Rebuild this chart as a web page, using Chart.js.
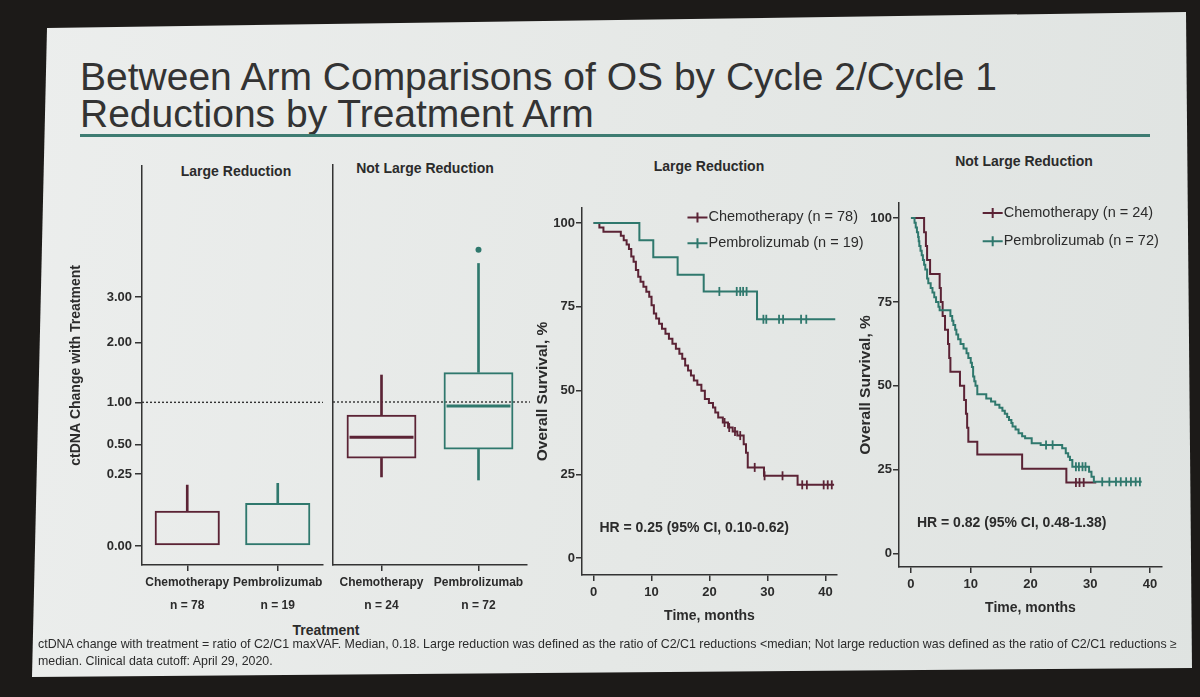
<!DOCTYPE html>
<html>
<head>
<meta charset="utf-8">
<script src="https://cdn.jsdelivr.net/npm/chart.js@4.4.1/dist/chart.umd.min.js"></script>
<style>
  html, body { margin: 0; padding: 0; }
  body { width: 1200px; height: 697px; background: #1c1a18; position: relative; overflow: hidden;
         font-family: "Liberation Sans", Arial, sans-serif; color: #2b2b2b; }
  .slide { position: absolute; left: 0; top: 0; width: 1200px; height: 697px;
           background: linear-gradient(100deg, #eceeed 0%, #e5e8e6 55%, #dfe3e1 100%);
           clip-path: polygon(47px 28px, 1186px 12px, 1192px 668px, 32px 677px); }
  .abs { position: absolute; white-space: nowrap; }
  .title { left: 80px; top: 58px; font-size: 39px; line-height: 37px; color: #333; }
  .rule { left: 80px; top: 134px; width: 1070px; height: 3px; background: #3e7c72; }
  .ptitle { font-weight: bold; font-size: 14px; transform: translateX(-50%); }
  .foot { left: 38px; top: 636px; font-size: 12.4px; line-height: 17px; color: #2b2b2b; }
  canvas { position: absolute; }
</style>
</head>
<body>
<div class="slide"></div>
<div class="abs title">Between Arm Comparisons of OS by Cycle 2/Cycle 1<br>Reductions by Treatment Arm</div>
<div class="abs rule"></div>

<div class="abs ptitle" style="left:236px; top:163px;">Large Reduction</div>
<div class="abs ptitle" style="left:425px; top:160px;">Not Large Reduction</div>
<div class="abs ptitle" style="left:326px; top:622px;">Treatment</div>
<div class="abs ptitle" style="left:709px; top:158px;">Large Reduction</div>
<div class="abs ptitle" style="left:1024px; top:153px;">Not Large Reduction</div>

<canvas id="boxLarge" width="266" height="485" style="left:60px; top:155px;"></canvas>
<canvas id="boxNotLarge" width="204" height="485" style="left:326px; top:155px;"></canvas>
<canvas id="kmLarge" width="340" height="430" style="left:530px; top:195px;"></canvas>
<canvas id="kmNotLarge" width="335" height="427" style="left:847px; top:190px;"></canvas>

<div class="abs foot">ctDNA change with treatment = ratio of C2/C1 maxVAF. Median, 0.18. Large reduction was defined as the ratio of C2/C1 reductions &lt;median; Not large reduction was defined as the ratio of C2/C1 reductions ≥<br>median. Clinical data cutoff: April 29, 2020.</div>

<script>
// ---- box plot data (ctDNA change, raw ratio values) ----
const boxCats = ['Chemotherapy', 'Pembrolizumab'];
const nLarge = ['n = 78', 'n = 19'];
const nNotLarge = ['n = 24', 'n = 72'];
const boxTicks = [0, 0.25, 0.5, 1, 2, 3];
// [low whisker, q1, median, q3, high whisker]; null = not drawn
const largeChemo = [null, 0, null, 0.06, 0.18];
const largePembro = [null, 0, null, 0.09, 0.19];
const notLargeChemo = [0.23, 0.37, 0.57, 0.83, 1.41];
const notLargePembro = [0.21, 0.45, 0.945, 1.455, 3.85];
const notLargeOutliers = [null, 4.23];

// ---- Kaplan-Meier data: time (months) / survival (%) ----
const kmTicksX = [0, 10, 20, 30, 40];
const kmTicksY = [0, 25, 50, 75, 100];

const lrChemoT = [0, 1.0, 1.7, 4.7, 5.2, 5.7, 6.1, 6.5, 6.9, 7.3, 7.7, 8.1, 8.6, 9.1, 9.6, 10.0, 10.4, 10.8, 11.3, 11.8, 12.4, 13.0, 13.6, 14.2, 14.8, 15.3, 15.8, 16.3, 16.8, 17.3, 17.9, 18.6, 19.2, 19.9, 20.6, 21.0, 21.5, 22.3, 23.2, 24.0, 24.8, 25.9, 26.3, 26.6, 29.4, 35.2, 41.5];
const lrChemoS = [100, 98.7, 97.4, 96.2, 94.9, 93.6, 92.3, 90.0, 88.5, 86.0, 84.0, 82.5, 81.0, 79.5, 78.0, 75.5, 73.0, 71.5, 70.0, 68.5, 67.0, 65.5, 64.0, 62.5, 61.0, 59.5, 57.5, 56.0, 54.5, 53.0, 51.8, 50.0, 47.5, 46.3, 45.0, 43.5, 42.0, 40.5, 39.0, 37.8, 36.6, 34.0, 31.5, 27.1, 24.6, 21.9, 21.9];
const lrChemoCensT = [22.6, 23.4, 24.4, 25.3, 27.8, 29.5, 32.6, 36.0, 36.8, 39.7, 40.4, 41.1];
const lrChemoCensS = [40.5, 39.0, 37.8, 36.6, 27.1, 24.6, 24.6, 21.9, 21.9, 21.9, 21.9, 21.9];

const lrPembroT = [0, 7.9, 10.3, 14.5, 19.0, 28.2, 41.7];
const lrPembroS = [100, 94.9, 89.8, 84.6, 79.6, 71.3, 71.3];
const lrPembroCensT = [21.7, 24.7, 25.3, 25.8, 26.4, 29.3, 29.8, 32.0, 32.7, 35.8, 36.7];
const lrPembroCensS = [79.6, 79.6, 79.6, 79.6, 79.6, 71.3, 71.3, 71.3, 71.3, 71.3, 71.3];

const nlrChemoT = [0, 2.2, 2.5, 2.7, 3.2, 4.8, 5.0, 5.3, 5.7, 6.2, 6.4, 6.6, 8.2, 8.9, 9.2, 9.4, 9.6, 11.1, 18.6, 26.0, 31.0];
const nlrChemoS = [100, 95.8, 91.7, 87.5, 83.3, 79.2, 75.0, 70.8, 66.7, 62.5, 58.3, 54.2, 50.0, 45.8, 41.7, 37.5, 33.3, 29.5, 25.3, 21.2, 21.2];
const nlrChemoCensT = [27.6, 28.2, 28.9];
const nlrChemoCensS = [21.2, 21.2, 21.2];

const nlrPembroT = [0, 0.6, 0.8, 1.0, 1.2, 1.3, 1.4, 1.6, 1.8, 2.0, 2.2, 2.4, 2.7, 2.9, 3.3, 3.6, 3.9, 4.2, 4.6, 4.8, 6.6, 6.9, 7.1, 7.4, 7.6, 7.9, 8.3, 8.8, 9.3, 9.6, 10.0, 10.2, 10.4, 10.6, 10.8, 11.1, 12.6, 13.4, 14.1, 14.8, 15.3, 15.7, 16.1, 16.4, 16.8, 17.0, 17.5, 18.0, 18.6, 19.1, 20.2, 21.7, 25.3, 25.9, 26.3, 26.6, 27.0, 29.8, 30.2, 30.6, 38.6];
const nlrPembroS = [100, 98.6, 97.2, 95.8, 94.4, 93.1, 91.7, 90.3, 88.9, 87.5, 86.1, 84.7, 82.0, 80.6, 79.2, 77.8, 76.4, 75.0, 73.6, 72.5, 70.8, 69.4, 68.1, 66.7, 65.3, 63.9, 62.5, 61.1, 59.7, 58.3, 56.9, 55.6, 52.8, 51.4, 50.0, 47.5, 46.2, 45.3, 44.4, 43.5, 42.6, 41.7, 40.7, 39.8, 38.9, 37.9, 37.0, 35.9, 35.0, 34.4, 32.9, 32.4, 31.4, 29.9, 28.9, 27.9, 25.9, 24.4, 22.9, 21.4, 21.4];
const nlrPembroCensT = [22.6, 23.7, 27.6, 28.1, 28.7, 29.2, 32.0, 33.2, 34.3, 35.1, 36.0, 36.8, 37.6, 38.3];
const nlrPembroCensS = [32.4, 32.4, 25.9, 25.9, 25.9, 25.9, 21.4, 21.4, 21.4, 21.4, 21.4, 21.4, 21.4, 21.4];

const lrLegend = ['Chemotherapy (n = 78)', 'Pembrolizumab (n = 19)'];
const nlrLegend = ['Chemotherapy (n = 24)', 'Pembrolizumab (n = 72)'];
const lrHR = 'HR = 0.25 (95% CI, 0.10-0.62)';
const nlrHR = 'HR = 0.82 (95% CI, 0.48-1.38)';

const CHEMO = '#5b2335';
const PEMBRO = '#2f786d';
const INK = '#2b2b2b';
const FONT = '"Liberation Sans", Arial, sans-serif';

// dotted reference line at ratio 1.00
const refLine = {
    id: 'refLine',
    beforeDatasetsDraw(chart, args, opts) {
        const { ctx, chartArea, scales } = chart;
        const py = scales.y.getPixelForValue(Math.sqrt(opts.value));
        ctx.save();
        ctx.setLineDash([2, 2]);
        ctx.strokeStyle = '#333';
        ctx.lineWidth = 1.4;
        ctx.beginPath();
        ctx.moveTo(chartArea.left, py);
        ctx.lineTo(chartArea.right + (opts.extend || 0), py);
        ctx.stroke();
        ctx.restore();
    }
};

// in-plot legend and hazard ratio text for the KM panels
const kmText = {
    id: 'kmText',
    afterDatasetsDraw(chart, args, o) {
        const { ctx, scales: { x, y } } = chart;
        ctx.save();
        ctx.textBaseline = 'middle';
        o.labels.forEach(function(label, i) {
            const px = x.getPixelForValue(o.legendX);
            const py = y.getPixelForValue(o.legendY[i]);
            ctx.strokeStyle = o.colors[i];
            ctx.lineWidth = 2;
            ctx.beginPath();
            ctx.moveTo(px, py); ctx.lineTo(px + 20, py);
            ctx.moveTo(px + 10, py - 5); ctx.lineTo(px + 10, py + 5);
            ctx.stroke();
            ctx.fillStyle = INK;
            ctx.font = '14.5px ' + FONT;
            ctx.fillText(label, px + 21, py);
        });
        ctx.font = 'bold 14px ' + FONT;
        ctx.fillText(o.hr, x.getPixelForValue(o.hrX), y.getPixelForValue(o.hrY));
        ctx.restore();
    }
};

function boxChart(id, cats, ns, groups, outliers, showY) {
    const colors = [CHEMO, PEMBRO];
    const sq = v => (v === null ? null : Math.sqrt(v));
    return new Chart(document.getElementById(id), {
        type: 'bar',
        data: {
            labels: cats.map((c, i) => [c, ns[i]]),
            datasets: [
                { // boxes q1..q3
                    data: groups.map(g => [sq(g[1]), sq(g[3])]),
                    backgroundColor: 'rgba(0,0,0,0)', borderColor: colors, borderWidth: 2,
                    borderSkipped: false, barPercentage: 0.72, categoryPercentage: 1, grouped: false
                },
                { // upper whiskers
                    data: groups.map(g => [sq(g[3]), sq(g[4])]),
                    backgroundColor: colors, borderWidth: 0, barThickness: 2, grouped: false
                },
                { // lower whiskers
                    data: groups.map(g => (g[0] === null ? null : [sq(g[0]), sq(g[1])])),
                    backgroundColor: colors, borderWidth: 0, barThickness: 2, grouped: false
                },
                { // medians
                    type: 'line', data: groups.map(g => sq(g[2])), showLine: false,
                    pointStyle: 'line', pointRadius: 32, pointBorderWidth: 3, pointBorderColor: colors
                },
                { // outliers
                    type: 'line', data: outliers.map(sq), showLine: false,
                    pointStyle: 'circle', pointRadius: 3, pointBorderWidth: 0,
                    pointBackgroundColor: colors
                }
            ]
        },
        options: {
            responsive: false, animation: false, events: [],
            layout: { autoPadding: false, padding: { top: 10, right: 3, left: 0, bottom: 0 } },
            plugins: { legend: { display: false }, tooltip: { enabled: false },
                       refLine: { value: 1, extend: showY ? 0 : 7 } },
            scales: {
                x: {
                    grid: { display: true, drawOnChartArea: false, offset: false, tickLength: 6, color: '#333', lineWidth: 1.5 },
                    border: { display: true, color: '#333', width: 1.5 },
                    ticks: { color: INK, font: { family: FONT, size: 12, weight: 'bold', lineHeight: 1.9 },
                             padding: 0, maxRotation: 0, autoSkip: false },
                    afterFit: s => { s.height = 75; s.paddingLeft = 0; s.paddingRight = 0; }
                },
                y: {
                    min: -0.132, max: 2.646,
                    afterBuildTicks: s => { s.ticks = boxTicks.map(v => ({ value: Math.sqrt(v) })); },
                    grid: { display: showY, drawOnChartArea: false, tickLength: 7, color: '#333', lineWidth: 1.5 },
                    border: { display: true, color: '#333', width: 1.5 },
                    ticks: { display: showY, color: INK, padding: 3,
                             font: { family: FONT, size: 13, weight: 'bold' },
                             callback: v => (v * v).toFixed(2) },
                    title: { display: showY, text: 'ctDNA Change with Treatment', color: INK,
                             font: { family: FONT, size: 14, weight: 'bold' }, padding: { top: 8, bottom: 0 } },
                    afterFit: s => { s.width = showY ? 82 : 7; }
                }
            }
        },
        plugins: [refLine]
    });
}

function pts(t, s) { return t.map((x, i) => ({ x: x, y: s[i] })); }

function kmChart(id, chemoT, chemoS, chemoCT, chemoCS, pembroT, pembroS, pembroCT, pembroCS, legend, hr, yMin, legendX, legendY, padRight, titlePad) {
    const curve = (d, c) => ({ type: 'line', data: d, stepped: true, borderColor: c, borderWidth: 2,
                               pointRadius: 0, fill: false });
    const cens = (d, c) => ({ type: 'scatter', data: d, pointStyle: 'line', rotation: 90, pointRadius: 4.5,
                              borderColor: c, borderWidth: 1.8, showLine: false });
    return new Chart(document.getElementById(id), {
        type: 'line',
        data: {
            datasets: [
                curve(pts(pembroT, pembroS), PEMBRO),
                cens(pts(pembroCT, pembroCS), PEMBRO),
                curve(pts(chemoT, chemoS), CHEMO),
                cens(pts(chemoCT, chemoCS), CHEMO)
            ]
        },
        options: {
            responsive: false, animation: false, events: [],
            layout: { padding: { top: 13, right: padRight, left: 0, bottom: 0 } },
            plugins: {
                legend: { display: false }, tooltip: { enabled: false },
                kmText: { labels: legend, colors: [CHEMO, PEMBRO], legendX: legendX, legendY: legendY,
                          hr: hr, hrX: 1.0, hrY: 9 }
            },
            scales: {
                x: {
                    type: 'linear', min: -2, max: 42,
                    afterBuildTicks: s => { s.ticks = kmTicksX.map(v => ({ value: v })); },
                    grid: { display: true, drawOnChartArea: false, tickLength: 6, color: '#333', lineWidth: 1.5 },
                    border: { display: true, color: '#333', width: 1.5 },
                    ticks: { color: INK, padding: 4, font: { family: FONT, size: 13, weight: 'bold' } },
                    title: { display: true, text: 'Time, months', color: INK,
                             font: { family: FONT, size: 14, weight: 'bold' }, padding: { top: 2, bottom: 0 } },
                    afterFit: s => { s.height = 50; s.paddingLeft = 0; s.paddingRight = 0; }
                },
                y: {
                    min: yMin, max: 104.5,
                    afterBuildTicks: s => { s.ticks = kmTicksY.map(v => ({ value: v })); },
                    grid: { display: true, drawOnChartArea: false, tickLength: 6, color: '#333', lineWidth: 1.5 },
                    border: { display: true, color: '#333', width: 1.5 },
                    ticks: { color: INK, padding: 1, font: { family: FONT, size: 13, weight: 'bold' } },
                    title: { display: true, text: 'Overall Survival, %', color: INK,
                             font: { family: FONT, size: 15.5, weight: 'bold' }, padding: { top: titlePad, bottom: 0 } },
                    afterFit: s => { s.width = 52; }
                }
            }
        },
        plugins: [kmText]
    });
}

boxChart('boxLarge', boxCats, nLarge, [largeChemo, largePembro], [null, null], true);
boxChart('boxNotLarge', boxCats, nNotLarge, [notLargeChemo, notLargePembro], notLargeOutliers, false);

kmChart('kmLarge', lrChemoT, lrChemoS, lrChemoCensT, lrChemoCensS,
        lrPembroT, lrPembroS, lrPembroCensT, lrPembroCensS, lrLegend, lrHR, -5, 16.2, [101.7, 94.0], 33, 3);
kmChart('kmNotLarge', nlrChemoT, nlrChemoS, nlrChemoCensT, nlrChemoCensS,
        nlrPembroT, nlrPembroS, nlrPembroCensT, nlrPembroCensS, nlrLegend, nlrHR, -4, 12.0, [101.5, 93.1], 20, 9);
</script>
</body>
</html>
